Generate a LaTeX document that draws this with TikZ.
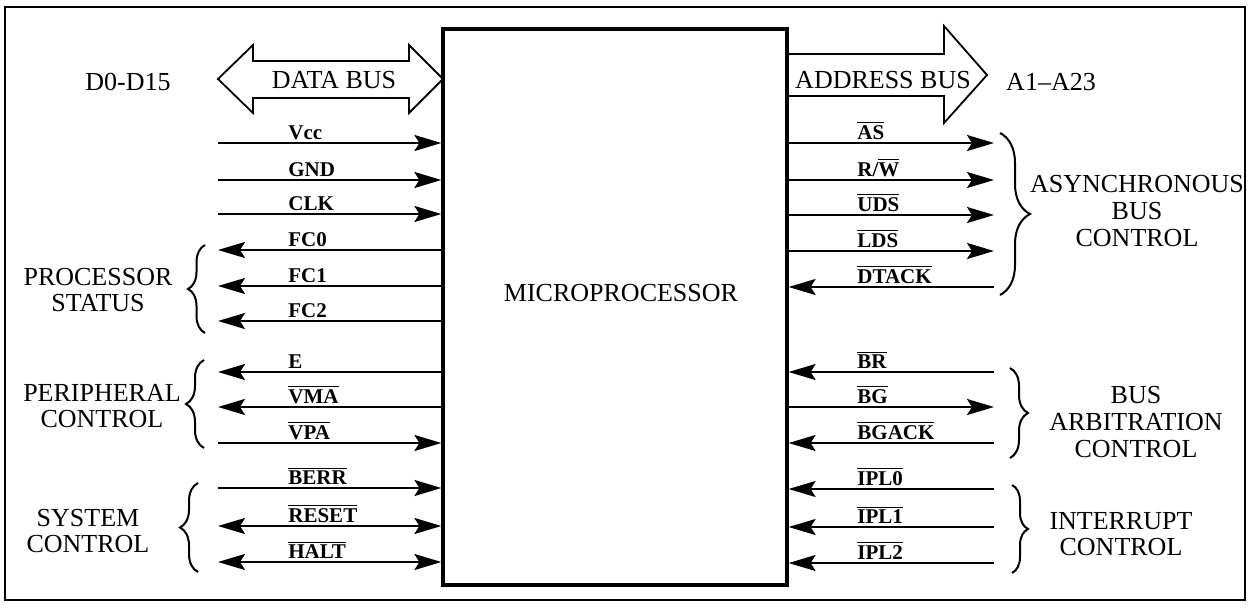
\documentclass[tikz,border=0pt]{standalone}
\usepackage{fontspec}
\setmainfont{Liberation Serif}
\usetikzlibrary{arrows.meta, decorations.pathreplacing, positioning}

\newcommand{\ovl}[1]{$\overline{\mbox{#1}}$}
\newcommand{\RW}{R/\ovl{W}}

\begin{document}
\begin{tikzpicture}[
  x=0.5pt, y=-0.5pt,
  >={Stealth[length=13.5pt, width=8pt, inset=2.5pt]},
  frame/.style={draw, line width=1pt},
  cpubox/.style={draw, line width=1.6pt, minimum width=172pt,
                 minimum height=278pt, inner sep=0pt},
  bus/.style={draw, line width=0.9pt, line join=miter},
  sig/.style={line width=1.1pt},
  pinlabel/.style={font=\fontsize{10.5}{12}\selectfont\bfseries,
                   anchor=south west, inner sep=0pt},
  grplabel/.style={font=\fontsize{13}{13.3}\selectfont, align=center, inner sep=0pt},
  grpbrace/.style={decorate, decoration={brace, amplitude=#1}, line width=1pt},
]
  \useasboundingbox (0,0) rectangle (1253,610);
  \draw[frame] (5,7) rectangle (1245,600);

  % the chip
  \node[cpubox] (cpu) at (615,307) {};
  \node[grplabel] (cpuname) at (621,293) {MICROPROCESSOR};

  % buses
  \draw[bus] (218,79) -- (253,45) -- (253,61) -- (409,61) -- (409,45) -- (443,79)
             -- (409,113) -- (409,98) -- (253,98) -- (253,113) -- cycle;
  \node[grplabel] (databus) at (334,80) {DATA BUS};
  \node[grplabel] (dlines) at (128,82) {D0-D15};

  \draw[bus] (787,54) -- (944,54) -- (944,26) -- (987,75) -- (944,123)
             -- (944,96) -- (787,96);
  \node[grplabel] (addrbus) at (883,80) {ADDRESS BUS};
  \node[grplabel] (alines) at (1051,82) {A1--A23};

  % left pins
  \foreach \py/\nm/\dir [count=\i] in {143/Vcc/->, 180/GND/->, 214/CLK/->,
      250/FC0/<-, 286/FC1/<-, 321/FC2/<-, 372/E/<-, 407/\ovl{VMA}/<-,
      443/\ovl{VPA}/->, 488/\ovl{BERR}/->, 526/\ovl{RESET}/<->, 562/\ovl{HALT}/<->}
  {
    \coordinate (l\i) at (218,\py);
    \draw[sig, \dir] (l\i) -- (l\i -| cpu.west);
    \node[pinlabel] (ln\i) at (288,{\py-3}) {\nm};
  }

  % right pins
  \foreach \py/\nm/\dir [count=\i] in {143/\ovl{AS}/->, 180/\RW/->,
      215/\ovl{UDS}/->, 251/\ovl{LDS}/->, 287/\ovl{DTACK}/<-, 372/\ovl{BR}/<-,
      407/\ovl{BG}/->, 443/\ovl{BGACK}/<-, 489/\ovl{IPL0}/<-,
      527/\ovl{IPL1}/<-, 563/\ovl{IPL2}/<-}
  {
    \coordinate (r\i) at (994,\py);
    \draw[sig, \dir] (r\i -| cpu.east) -- (r\i);
    \node[pinlabel] (rn\i) at (857,{\py-3}) {\nm};
  }

  % groups on the left
  \draw[grpbrace=8.5pt] (205,333) -- (205,245);
  \node[grplabel] (pstat) at (98,290) {PROCESSOR\\STATUS};
  \draw[grpbrace=9pt] (204,448) -- (204,360);
  \node[grplabel] (pctl) at (102,406) {PERIPHERAL\\CONTROL};
  \draw[grpbrace=9pt] (198,572) -- (198,483);
  \node[grplabel] (sctl) at (88,531) {SYSTEM\\CONTROL};

  % groups on the right
  \draw[grpbrace=15pt] (1000,133) -- (1000,295);
  \node[grplabel] (async) at (1137,211) {ASYNCHRONOUS\\BUS\\CONTROL};
  \draw[grpbrace=9pt] (1010,368) -- (1010,458);
  \node[grplabel] (arb) at (1136,422) {BUS\\ARBITRATION\\CONTROL};
  \draw[grpbrace=8pt] (1012,485) -- (1012,573);
  \node[grplabel] (irq) at (1121,534) {INTERRUPT\\CONTROL};
\end{tikzpicture}
\end{document}
